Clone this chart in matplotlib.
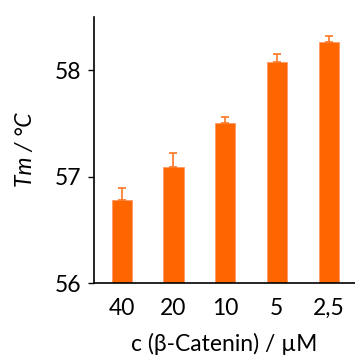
import numpy as np
import matplotlib
matplotlib.use("Agg")
import matplotlib.pyplot as plt

plt.rcParams['font.family'] = ['Lato', 'DejaVu Sans']

# data
conc_labels = ["40", "20", "10", "5", "2,5"]
tm_values = [56.78, 57.09, 57.505, 58.08, 58.27]
tm_errors = [0.11, 0.13, 0.055, 0.07, 0.05]

fig = plt.figure(figsize=(3.55, 3.56), dpi=100)
ax = fig.add_axes([0.265, 0.205, 0.735, 0.747])

x = np.arange(len(conc_labels))
ax.bar(x, tm_values, width=0.39, color="#FF6600", edgecolor="#FF9966",
       linewidth=0.6, zorder=2)
ax.errorbar(x, tm_values, yerr=[np.zeros(len(tm_errors)), tm_errors],
            fmt="none", ecolor="#FF7722", elinewidth=1.2, capsize=3,
            capthick=1.2, zorder=3)

ax.set_ylim(56, 58.5)
ax.set_xlim(-0.535, 4.51)
ax.set_yticks([56, 57, 58])
ax.set_xticks(x)
ax.set_xticklabels(conc_labels)
ax.tick_params(axis="both", labelsize=16.5, length=4, width=1)
ax.tick_params(axis="y", pad=5)
ax.tick_params(axis="x", length=0, pad=11)

for side in ["top", "right"]:
    ax.spines[side].set_visible(False)
for side in ["left", "bottom"]:
    ax.spines[side].set_linewidth(1.2)

ax.set_ylabel("Tm / °C", fontsize=16.5, style="italic", labelpad=14)
ax.set_xlabel("c (β-Catenin) / µM", fontsize=16.5, labelpad=10)

fig.savefig("out.png", dpi=100)
